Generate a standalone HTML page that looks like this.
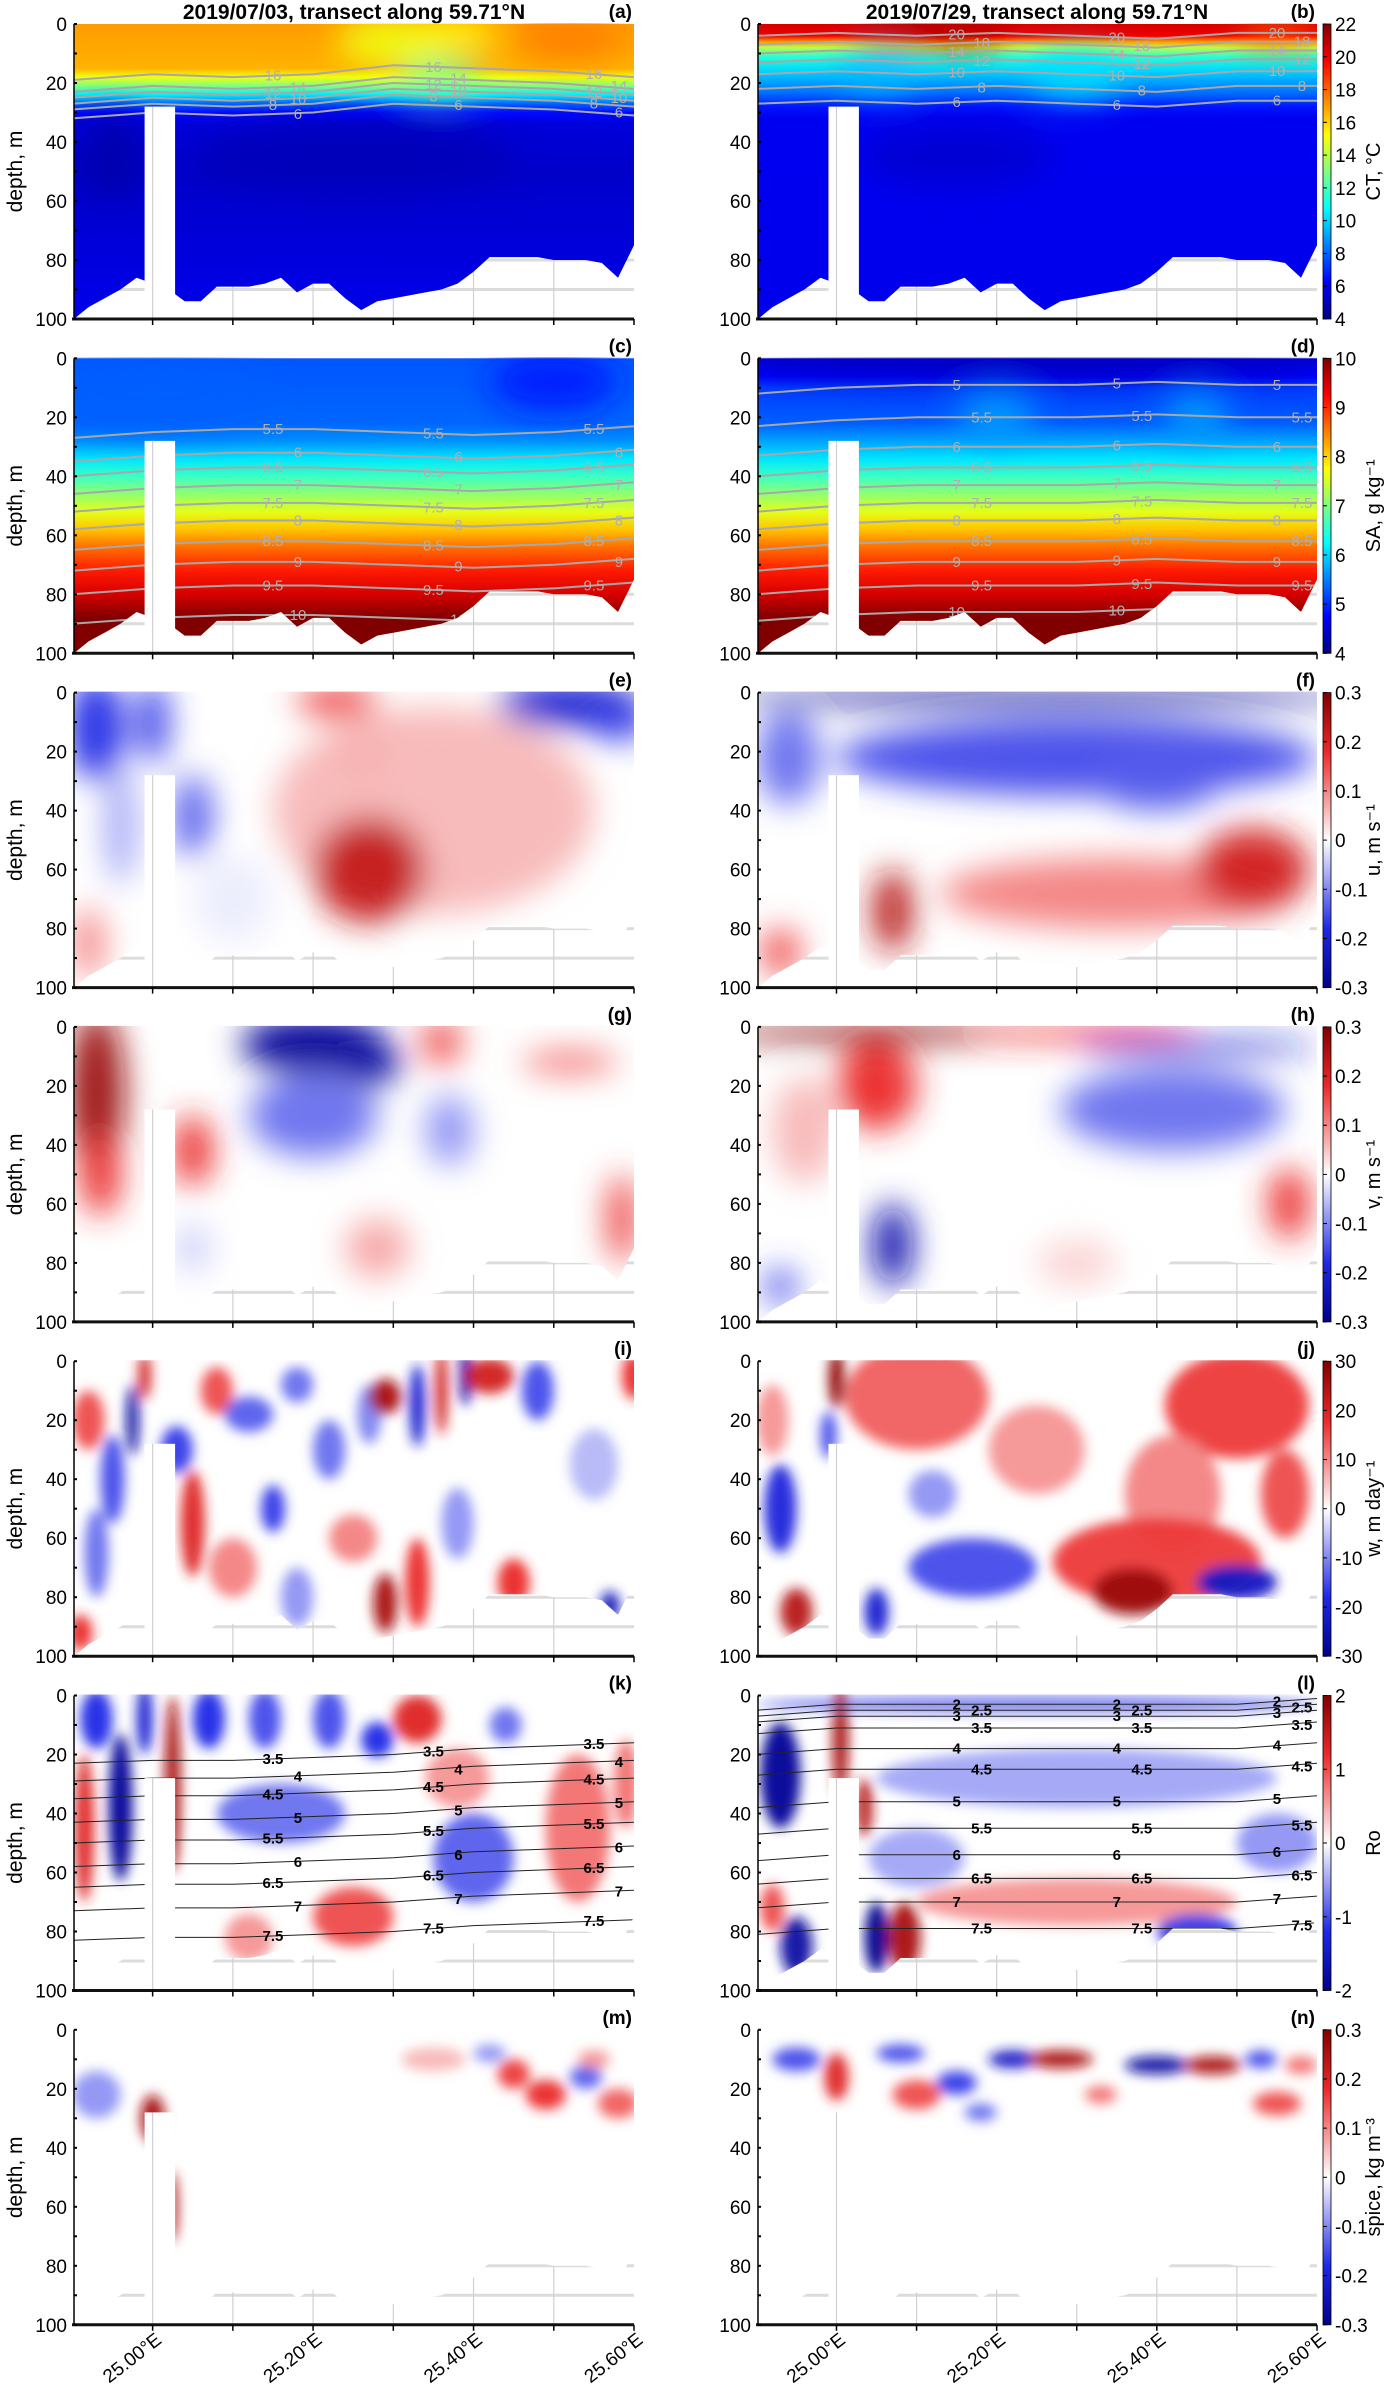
<!DOCTYPE html>
<html><head><meta charset="utf-8"><style>
html,body{margin:0;padding:0;background:#fff;}
svg{display:block;font-family:"Liberation Sans",sans-serif;}
</style></head><body>
<svg id="fig" width="1390" height="2396" viewBox="0 0 1390 2396" xmlns="http://www.w3.org/2000/svg">
<defs>
<filter id="blur" x="-50%" y="-50%" width="200%" height="200%"><feGaussianBlur stdDeviation="16"/></filter>
<filter id="blurS" x="-50%" y="-50%" width="200%" height="200%"><feGaussianBlur stdDeviation="6"/></filter>
</defs>
<text x="354" y="19" text-anchor="middle" font-size="21" font-weight="bold">2019/07/03, transect along 59.71°N</text>
<text x="1037" y="19" text-anchor="middle" font-size="21" font-weight="bold">2019/07/29, transect along 59.71°N</text>
</svg>
<script>
// ---------- data ----------
const bathyLons = [24.90,24.92,24.94,24.96,24.98,25.00,25.02,25.04,25.06,25.08,25.10,25.12,25.14,25.16,25.18,25.20,25.22,25.24,25.26,25.28,25.30,25.32,25.34,25.36,25.38,25.40,25.42,25.44,25.46,25.48,25.50,25.52,25.54,25.56,25.58,25.60];
const bathyDepths = [100,96,93,90,86,88,90,94,94,89,89,89,88,86,91,88,88,93,97,94,93,92,91,90,88,84,79,79,79,79,80,80,80,81,86,75];
const spikeLons = [24.990,25.028];
const spikeTop = 28;
const xTickLabels = ["25.00°E","25.20°E","25.40°E","25.60°E"];
const xTickLons = [25.0,25.2,25.4,25.6];
const yTicks = [0,20,40,60,80,100];
const contourLons = [24.90,25.00,25.10,25.20,25.30,25.40,25.50,25.60];

const ctLeftDepth = [0,15,18,21,24,27,30,34,50,100];
const ctLeftVal = [17,16.6,15,13,10.5,8,6.4,5.6,5.3,5.9];
const ctRightDepth = [0,4,6,8,11,16,20,24,28,32,100];
const ctRightVal = [20.5,20,17,14,11.5,10,9,8,6.6,6,5.9];
const saLeftDepth = [0,22,28,34,40,46,52,58,64,72,80,88,100];
const saLeftVal = [5.25,5.35,5.6,6.1,6.6,7.1,7.6,8.1,8.6,9.1,9.5,10,10.3];
const saRightDepth = [0,6,10,22,28,34,40,46,52,58,64,72,80,88,100];
const saRightVal = [4.5,4.7,5.1,5.3,5.7,6.1,6.6,7.1,7.6,8.1,8.6,9.1,9.5,10,10.3];

const ctLeftLevels = [16,14,12,10,8,6];
const ctLeftBase = [17,21,23,25,27,30];
const ctLeftShape = [2,0,1,0,-3,-2,-1,1];
const ctRightLevels = [20,18,14,12,10,8,6];
const ctRightBase = [3,6,9,12,16,21,26];
const ctRightShape = [1,0,1,0,1,2,0,0];
const saLeftLevels = [5.5,6,6.5,7,7.5,8,8.5,9,9.5,10];
const saLeftBase = [25,33,38,44,50,56,63,70,78,88];
const saLeftShape = [2,0,-1,-1,0,1,0,-2];
const saRightLevels = [5,5.5,6,6.5,7,7.5,8,8.5,9,9.5,10];
const saRightBase = [9,20,30,37,43,49,55,62,69,77,86];
const saRightShape = [3,1,0,0,0,-1,0,0];
const rhoLeftLevels = [3.5,4,4.5,5,5.5,6,6.5,7,7.5];
const rhoLeftBase = [20,26,32,40,47,55,62,70,80];
const rhoLeftShape = [3,2,2,1,0,-2,-3,-4];
const rhoRightLevels = [2,2.5,3,3.5,4,4.5,5,5.5,6,6.5,7,7.5];
const rhoRightBase = [3,5,7,11,18,25,36,45,54,62,70,79];
const rhoRightShape = [2,0,0,0,0,0,0,-2];

// blobs in physical units for jet panels: [lon, depth, rxDeg, ryM, value]
const blobsA = [[25.30,6,0.07,9,15.0],[25.38,3,0.05,6,15.3],[25.52,5,0.07,7,17.6],[25.36,18,0.05,6,12.5],[24.95,45,0.04,15,4.8],[25.25,45,0.2,12,5.0]];
const blobsB = [[25.30,17,0.06,8,10.2],[25.05,17,0.05,6,9.5],[25.12,3,0.1,4,21.5],[25.55,3,0.05,4,18.0],[25.15,45,0.12,10,5.4]];
const blobsC = [[25.50,8,0.08,10,4.9],[25.00,12,0.15,12,5.3]];
const blobsD = [[25.25,2,0.35,4,4.3],[25.20,20,0.05,8,5.7],[25.45,20,0.04,8,5.7]];
// normalized anomaly blobs for diverging panels
const blobsE = [[24.93,12,0.035,18,-0.6],[25.00,10,0.02,14,-0.55],[25.05,42,0.025,14,-0.45],[24.96,45,0.02,20,-0.25],[25.23,3,0.05,6,0.5],[25.26,20,0.04,10,0.4],[25.35,40,0.2,35,0.2],[25.27,60,0.07,18,0.75],[25.52,4,0.09,8,-0.7],[25.58,10,0.04,6,-0.55],[24.92,85,0.02,12,0.35],[25.10,70,0.05,15,-0.05]];
const blobsF = [[25.25,1.5,0.4,3,-0.95],[25.3,22,0.3,13,-0.5],[24.94,22,0.04,16,-0.4],[25.40,30,0.08,10,-0.45],[25.07,74,0.025,14,0.8],[25.35,68,0.22,12,0.35],[25.52,60,0.07,14,0.7],[24.93,88,0.025,8,0.5]];
const blobsG = [[24.93,22,0.035,28,0.9],[24.935,50,0.025,14,0.6],[25.05,42,0.025,12,0.6],[25.20,6,0.09,10,-0.95],[25.27,12,0.04,8,-0.9],[25.20,30,0.08,14,-0.4],[25.37,35,0.03,12,-0.3],[25.36,5,0.025,8,0.5],[25.52,12,0.06,4,0.4],[25.28,75,0.04,10,0.25],[25.585,65,0.02,15,0.5],[25.05,75,0.02,8,-0.15]];
const blobsH = [[25.05,2,0.2,3,1.0],[25.30,2,0.15,2.5,0.6],[25.05,20,0.05,15,0.6],[24.96,35,0.04,18,0.2],[25.45,7,0.15,2.5,-0.7],[25.42,28,0.14,14,-0.4],[25.07,74,0.025,14,-0.85],[25.565,60,0.025,12,0.6],[24.93,88,0.02,6,-0.5],[25.30,80,0.05,8,0.12]];
const blobsI = [[24.92,20,0.02,10,0.5],[24.95,40,0.015,15,-0.5],[24.93,65,0.015,15,-0.4],[24.91,92,0.015,6,0.6],[24.975,20,0.008,12,-0.9],[24.99,5,0.008,8,0.7],[25.05,55,0.015,18,0.65],[25.03,30,0.02,8,-0.55],[25.08,10,0.02,8,0.5],[25.12,18,0.03,6,-0.45],[25.10,70,0.03,10,0.35],[25.15,50,0.015,8,-0.55],[25.18,8,0.02,6,-0.4],[25.22,30,0.02,10,-0.4],[25.25,60,0.03,8,0.35],[25.27,18,0.015,10,-0.35],[25.29,12,0.02,6,0.85],[25.29,82,0.015,10,0.85],[25.33,75,0.015,15,0.6],[25.33,15,0.01,14,-0.7],[25.36,10,0.008,15,0.7],[25.39,5,0.008,10,-0.9],[25.38,55,0.02,12,-0.3],[25.42,5,0.03,6,0.7],[25.45,75,0.02,8,0.6],[25.48,10,0.02,10,-0.5],[25.55,35,0.03,12,-0.2],[25.57,83,0.012,5,-0.8],[25.60,5,0.015,8,0.6],[25.18,80,0.02,10,-0.3]];
const blobsJ = [[25.10,12,0.09,18,0.45],[25.25,30,0.06,15,0.3],[25.50,15,0.09,18,0.55],[25.42,45,0.06,20,0.35],[25.40,68,0.13,15,0.55],[25.37,78,0.05,8,0.9],[25.17,70,0.08,10,-0.5],[25.12,45,0.03,8,-0.3],[25.50,75,0.05,6,-0.75],[24.93,50,0.02,15,-0.65],[24.95,85,0.02,8,0.8],[25.05,85,0.015,8,-0.7],[25.00,6,0.01,10,0.95],[24.99,25,0.01,8,-0.5],[24.92,20,0.02,12,0.3],[25.56,45,0.03,15,0.5]];
const blobsK = [[24.93,8,0.02,10,-0.6],[24.99,8,0.01,12,-0.7],[25.07,8,0.02,10,-0.6],[25.14,8,0.02,10,-0.5],[25.22,8,0.02,10,-0.5],[25.28,15,0.02,6,-0.6],[24.96,38,0.015,25,-0.95],[24.915,45,0.012,25,0.65],[25.025,30,0.01,30,0.85],[25.16,40,0.08,10,-0.4],[25.33,8,0.03,8,0.65],[25.38,28,0.04,10,0.3],[25.44,10,0.02,6,-0.4],[25.53,45,0.04,25,0.4],[25.25,75,0.05,10,0.5],[25.40,55,0.05,15,-0.45],[25.12,82,0.03,8,0.3],[25.59,30,0.015,15,0.4]];
const blobsL = [[25.25,3,0.35,3,-0.35],[24.93,27,0.025,18,-0.95],[24.95,85,0.02,10,-0.9],[24.92,72,0.015,8,0.5],[25.005,15,0.01,20,0.85],[25.035,38,0.01,10,0.8],[25.05,82,0.015,12,-1],[25.085,82,0.02,12,0.85],[25.30,70,0.2,8,0.3],[25.45,80,0.05,6,-0.55],[25.30,28,0.25,10,-0.25],[25.10,55,0.06,10,-0.25],[25.55,50,0.05,10,-0.3]];
const blobsM = [[25.00,30,0.015,8,0.85],[25.025,60,0.006,12,0.85],[24.93,22,0.03,8,-0.3],[25.35,10,0.04,4,0.2],[25.45,15,0.02,5,0.55],[25.49,22,0.025,5,0.6],[25.54,16,0.02,4,-0.45],[25.58,25,0.025,5,0.45],[25.42,8,0.02,3,-0.3],[25.55,10,0.02,3,0.3]];
const blobsN = [[24.95,10,0.03,4,-0.5],[25.00,16,0.015,8,0.65],[25.10,22,0.03,5,0.5],[25.15,18,0.025,4,-0.55],[25.22,10,0.03,3,-0.75],[25.28,10,0.04,3,0.85],[25.40,12,0.04,3,-0.9],[25.47,12,0.035,3,0.85],[25.55,25,0.03,4,0.5],[25.53,10,0.02,3,-0.5],[25.33,22,0.02,3,0.4],[25.08,8,0.03,3,-0.5],[25.18,28,0.02,3,-0.4],[25.58,12,0.02,3,0.4]];

const cbCT = [4,6,8,10,12,14,16,18,20,22];
const cbSA = [4,5,6,7,8,9,10];
const cbUV = [-0.3,-0.2,-0.1,0,0.1,0.2,0.3];
const cbW = [-30,-20,-10,0,10,20,30];
const cbRo = [-2,-1,0,1,2];
const cbSp = [-0.3,-0.2,-0.1,0,0.1,0.2,0.3];

// ---------- geometry ----------
const NS='http://www.w3.org/2000/svg';
const svg=document.getElementById('fig');
const LON0=24.902, LON1=25.60, PH=295;
function panelTop(r){return 24+r*334.3;}
function X(side,lon){const x0=side?758:74,x1=side?1317:634;return x0+(lon-LON0)/(LON1-LON0)*(x1-x0);}
function Y(r,d){return panelTop(r)+d/100*PH;}
function mk(tag,attrs,parent){const e=document.createElementNS(NS,tag);for(const k in attrs)e.setAttribute(k,attrs[k]);(parent||svg).appendChild(e);return e;}
function jet(t){t=Math.max(0,Math.min(1,t));const c=v=>Math.round(255*Math.max(0,Math.min(1,v)));return `rgb(${c(1.5-Math.abs(4*t-3))},${c(1.5-Math.abs(4*t-2))},${c(1.5-Math.abs(4*t-1))})`;}
function rwb(v){v=Math.max(-1,Math.min(1,v));const st=[[-1,0,0,140],[-0.6,30,40,230],[0,255,255,255],[0.6,235,40,40],[1,130,0,0]];for(let i=0;i<st.length-1;i++){const a=st[i],b=st[i+1];if(v<=b[0]){const f=(v-a[0])/(b[0]-a[0]);return `rgb(${Math.round(a[1]+f*(b[1]-a[1]))},${Math.round(a[2]+f*(b[2]-a[2]))},${Math.round(a[3]+f*(b[3]-a[3]))})`;}}return 'rgb(130,0,0)';}

const panels=[
 {r:0,s:0,letter:'(a)',type:'jet',min:4,max:22,pd:ctLeftDepth,pv:ctLeftVal,lv:ctLeftLevels,lb:ctLeftBase,ls:ctLeftShape,cc:'#a8a8a8',blobs:blobsA},
 {r:0,s:1,letter:'(b)',type:'jet',min:4,max:22,pd:ctRightDepth,pv:ctRightVal,lv:ctRightLevels,lb:ctRightBase,ls:ctRightShape,cc:'#a8a8a8',blobs:blobsB,cb:cbCT,cbl:'CT, °C'},
 {r:1,s:0,letter:'(c)',type:'jet',min:4,max:10,pd:saLeftDepth,pv:saLeftVal,lv:saLeftLevels,lb:saLeftBase,ls:saLeftShape,cc:'#a8a8a8',blobs:blobsC},
 {r:1,s:1,letter:'(d)',type:'jet',min:4,max:10,pd:saRightDepth,pv:saRightVal,lv:saRightLevels,lb:saRightBase,ls:saRightShape,cc:'#a8a8a8',blobs:blobsD,cb:cbSA,cbl:'SA, g kg⁻¹'},
 {r:2,s:0,letter:'(e)',type:'rwb',blobs:blobsE},
 {r:2,s:1,letter:'(f)',type:'rwb',blobs:blobsF,cb:cbUV,cbl:'u, m s⁻¹'},
 {r:3,s:0,letter:'(g)',type:'rwb',blobs:blobsG},
 {r:3,s:1,letter:'(h)',type:'rwb',blobs:blobsH,cb:cbUV,cbl:'v, m s⁻¹'},
 {r:4,s:0,letter:'(i)',type:'rwb',blobs:blobsI,sharp:true},
 {r:4,s:1,letter:'(j)',type:'rwb',blobs:blobsJ,sharp:true,cb:cbW,cbl:'w, m day⁻¹'},
 {r:5,s:0,letter:'(k)',type:'rwb',blobs:blobsK,sharp:true,lv:rhoLeftLevels,lb:rhoLeftBase,ls:rhoLeftShape,cc:'#222'},
 {r:5,s:1,letter:'(l)',type:'rwb',blobs:blobsL,sharp:true,lv:rhoRightLevels,lb:rhoRightBase,ls:rhoRightShape,cc:'#222',cb:cbRo,cbl:'Ro'},
 {r:6,s:0,letter:'(m)',type:'rwb',blobs:blobsM,sharp:true},
 {r:6,s:1,letter:'(n)',type:'rwb',blobs:blobsN,sharp:true,cb:cbSp,cbl:'spice, kg m⁻³'}
];
const defs=svg.querySelector('defs');

panels.forEach((p,idx)=>{
 const x0=X(p.s,LON0),x1=X(p.s,LON1),y0=panelTop(p.r),y1=y0+PH;
 const g=mk('g',{});
 
 
 for(let d=10;d<=90;d+=10){const l=mk('line',{x1:x0,x2:x1,y1:Y(p.r,d),y2:Y(p.r,d),stroke:'#dcdcdc','stroke-width':3},g);}
 for(let lon=25.0;lon<25.59;lon+=0.1){const l=mk('line',{x1:X(p.s,lon),x2:X(p.s,lon),y1:y0,y2:y1,stroke:'#d0d0d0','stroke-width':1.2},g);}
 const cp=mk('clipPath',{id:'cp'+idx},defs);
 let pts=[[x0,y0-1],[x1,y0-1]];
 for(let i=bathyLons.length-1;i>=0;i--){
   pts.push([Math.max(x0,Math.min(x1,X(p.s,bathyLons[i]))),Y(p.r,bathyDepths[i])]);
 }
 mk('path',{d:'M'+pts.map(q=>q[0].toFixed(1)+','+q[1].toFixed(1)).join('L')+'Z'},cp);
 const dg=mk('g',{'clip-path':`url(#cp${idx})`},g);
 
 
 const sc=(x1-x0)/(LON1-LON0);
 if(p.type==='jet'){
   const gid='pg'+idx;
   const lg=mk('linearGradient',{id:gid,x1:0,y1:0,x2:0,y2:1},defs);
   p.pd.forEach((d,i)=>mk('stop',{offset:(d/100),'stop-color':jet((p.pv[i]-p.min)/(p.max-p.min))},lg));
   mk('rect',{x:x0,y:y0,width:x1-x0,height:PH,fill:`url(#${gid})`},dg);
   const bg=mk('g',{filter:'url(#blur)'},dg);
   p.blobs.forEach(b=>{
     const e=mk('ellipse',{cx:X(p.s,b[0]),cy:Y(p.r,b[1]),rx:b[2]*sc,ry:b[3]*PH/100,fill:jet((b[4]-p.min)/(p.max-p.min)),opacity:0.9},bg);
     
     
   });
 } else {
   mk('rect',{x:x0,y:y0,width:x1-x0,height:PH,fill:'#fff'},dg);
   const bg=mk('g',{filter:p.sharp?'url(#blurS)':'url(#blur)'},dg);
   p.blobs.forEach(b=>{
     const e=mk('ellipse',{cx:X(p.s,b[0]),cy:Y(p.r,b[1]),rx:b[2]*sc,ry:b[3]*PH/100,fill:rwb(b[4]),opacity:0.95},bg);
     
     
   });
 }
 if(p.lv){
   const cg=mk('g',{},dg);
   p.lv.forEach((lev,i)=>{
     const d=contourLons.map((lon,j)=>(j?'L':'M')+X(p.s,lon).toFixed(1)+','+Y(p.r,p.lb[i]+p.ls[j]).toFixed(1)).join('');
     const c=mk('path',{d:d,fill:'none',stroke:p.cc,'stroke-width':p.type==='jet'?2:1},cg);
     
     
     [2,4,6].forEach(j=>{
       const lon=(contourLons[j]+contourLons[j+1])/2;
       const dep=p.lb[i]+(p.ls[j]+p.ls[j+1])/2;
       const t=mk('text',{x:X(p.s,lon)+(i%2)*25,y:Y(p.r,dep)+5,'text-anchor':'middle','font-size':15,fill:p.type==='jet'?'#b0b0b0':'#000','font-weight':p.type==='jet'?'normal':'bold'},cg);
       t.textContent=lev;
       
       
     });
   });
 }
 // seamount spike (masked)
 const sp=mk('rect',{x:X(p.s,spikeLons[0]),y:Y(p.r,spikeTop),width:X(p.s,spikeLons[1])-X(p.s,spikeLons[0]),height:Y(p.r,100)-Y(p.r,spikeTop),fill:'#fff'},g);
 
 const sg=mk('line',{x1:X(p.s,25.0),x2:X(p.s,25.0),y1:Y(p.r,spikeTop),y2:y1,stroke:'#d0d0d0','stroke-width':1.2},g);
 
 mk('line',{x1:x0,x2:x0,y1:y0,y2:y1,stroke:'#000','stroke-width':1.5},g);
 const ax=mk('line',{x1:x0-2,x2:x1,y1:y1,y2:y1,stroke:'#111','stroke-width':3},g);
 
 for(let lon=25.0;lon<=25.601;lon+=0.1){mk('line',{x1:X(p.s,lon),x2:X(p.s,lon),y1:y1,y2:y1+6,stroke:'#000','stroke-width':1.5},g);}
 for(let d=0;d<=100;d+=10){mk('line',{x1:x0,x2:x0+3,y1:Y(p.r,d),y2:Y(p.r,d),stroke:'#000','stroke-width':2},g);}
 yTicks.forEach(d=>{const t=mk('text',{x:x0-7,y:Y(p.r,d)+7,'text-anchor':'end','font-size':19},g);t.textContent=d;});
 if(p.s===0){const yl=mk('text',{x:22,y:y0+PH/2,transform:`rotate(-90 22 ${y0+PH/2})`,'text-anchor':'middle','font-size':21},g);yl.textContent='depth, m';}
 const pl=mk('text',{x:x1-2,y:y0-6,'text-anchor':'end','font-size':19,'font-weight':'bold'},g);pl.textContent=p.letter;
 if(p.r===6){xTickLons.forEach((lon,i)=>{const tx=X(p.s,lon)+10,ty=2342;const t=mk('text',{x:tx,y:ty,'text-anchor':'end','font-size':19,transform:`rotate(-38 ${tx} ${ty})`},g);t.textContent=xTickLabels[i];});}
 if(p.cb){
   const cbg=mk('g',{},g);
   
   const gid='cb'+idx;
   const lg=mk('linearGradient',{id:gid,x1:0,y1:1,x2:0,y2:0},defs);
   for(let k=0;k<=40;k++){const t=k/40;mk('stop',{offset:t,'stop-color':p.type==='jet'?jet(t):rwb(2*t-1)},lg);}
   mk('rect',{x:1323,y:y0,width:8,height:PH,fill:`url(#${gid})`,stroke:'#000','stroke-width':0.8},cbg);
   const lo=p.cb[0],hi=p.cb[p.cb.length-1];
   p.cb.forEach(v=>{const yy=y1-(v-lo)/(hi-lo)*PH;mk('line',{x1:1323,x2:1327,y1:yy,y2:yy,stroke:'#000'},cbg);const t=mk('text',{x:1335,y:yy+7,'font-size':19},cbg);t.textContent=v;});
   const cx=1380,cy=y0+PH/2;
   const t=mk('text',{x:cx,y:cy,transform:`rotate(-90 ${cx} ${cy})`,'text-anchor':'middle','font-size':20},cbg);t.textContent=p.cbl;
   
 }
});
</script>
</body></html>
